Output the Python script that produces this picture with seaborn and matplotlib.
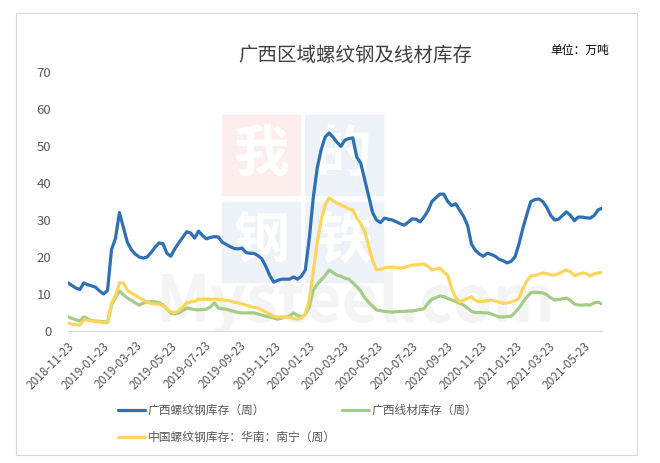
import matplotlib
matplotlib.use("Agg")
import matplotlib.pyplot as plt
import matplotlib.patches as mpatches
import numpy as np
import pandas as pd
import seaborn as sns

# weekly data, starting 2018-11-23
start_date = "2018-11-23"

guangxi_rebar = [
    13, 12.3, 11.6, 11.2, 13, 12.5, 12.2, 11.8, 10.8, 10,
    11, 22, 25, 32, 28, 24, 22, 20.8, 20, 19.7,
    20, 21.2, 22.6, 23.8, 23.6, 21, 20.2, 22.2, 23.8, 25.3,
    26.8, 26.5, 25.1, 27, 25.8, 24.9, 25.3, 25.5, 25.4, 24,
    23.4, 22.8, 22.3, 22.2, 22.4, 21.2, 21, 21, 20.4, 19.5,
    17.5, 15, 13.2, 13.7, 14, 14, 14, 14.6, 14, 14.8,
    16.5, 25, 36, 44, 49, 52.4, 53.5, 52.4, 51, 49.9,
    51.6, 52, 52.2, 47, 45.4, 41, 36.5, 32, 30, 29.3,
    30.5, 30.2, 30, 29.5, 29, 28.6, 29.4, 30.3, 30.2, 29.5,
    30.8, 32.5, 35, 36, 37, 37, 35, 33.9, 34.4, 32.7,
    31, 28.6, 23.5, 21.8, 20.8, 20.2, 21, 20.7, 20.2, 19.4,
    19, 18.4, 18.8, 20, 23.5, 27.8, 31.5, 35, 35.5, 35.7,
    35, 33.5, 31.3, 30, 30.2, 31.2, 32.2, 31.3, 29.8, 30.8,
    30.8, 30.6, 30.5, 31.2, 32.7, 33.2,
]

guangxi_wire = [
    3.8, 3.4, 3.0, 2.7, 3.8, 3.3, 2.8, 2.7, 2.6, 2.5,
    2.4, 7, 9, 10.8, 9.8, 8.9, 8.3, 7.6, 7, 7.5,
    7.9, 7.9, 7.9, 7.7, 7, 6, 4.8, 4.6, 4.9, 5.5,
    6.2, 6, 5.8, 5.7, 5.8, 5.9, 6.5, 7.6, 6.2, 6,
    5.9, 5.6, 5.3, 5, 4.9, 4.9, 4.9, 4.9, 4.6, 4.3,
    4, 3.8, 3.5, 3.2, 3.5, 3.8, 4, 4.9, 4.2, 3.8,
    4.5, 6.5, 11, 12.6, 13.8, 15, 16.5, 15.8, 15.1, 14.8,
    14.3, 14, 13, 12, 10.8, 9, 7.8, 6.7, 5.7, 5.5,
    5.3, 5.2, 5.1, 5.2, 5.3, 5.3, 5.4, 5.4, 5.6, 5.8,
    6, 7.5, 8.6, 9, 9.5, 9.3, 8.8, 8.4, 8, 7.5,
    7, 6.2, 5.3, 5, 5, 4.9, 4.9, 4.6, 4.2, 3.8,
    3.8, 3.9, 4, 5, 6.2, 7.8, 9.2, 10.3, 10.5, 10.4,
    10.3, 9.8, 9, 8.4, 8.5, 8.7, 8.9, 8.3, 7.3, 7,
    7, 7.1, 7, 7.6, 7.8, 7.3,
]

nanning_rebar = [
    2.2, 1.9, 1.7, 1.6, 3, 2.9, 2.7, 2.5, 2.4, 2.3,
    2.2, 7.5, 9.5, 13, 13, 11, 10.3, 9.7, 9, 8.4,
    7.8, 7.4, 7.3, 7.3, 6.8, 6, 5.2, 4.9, 5.5, 6.5,
    7.6, 7.9, 8, 8.6, 8.6, 8.6, 8.6, 8.6, 8.6, 8.4,
    8.3, 8.1, 7.8, 7.6, 7.3, 7, 6.7, 6.4, 6.2, 5.7,
    5.1, 4.5, 4, 3.8, 3.8, 3.8, 3.7, 3.4, 3.2, 3.5,
    4.5, 8.5, 16, 24, 30, 34, 36, 35.2, 34.6, 34,
    33.6, 33, 32.7, 30.5, 29, 27, 23, 19, 16.5, 16.7,
    17, 17.2, 17.3, 17.1, 17, 17.2, 17.5, 17.8, 17.9, 18,
    18.1, 17.5, 16.5, 16.8, 17, 16, 15, 11.5, 9, 7.9,
    8.3, 8.8, 9.2, 8.3, 7.9, 8, 8.2, 8.4, 8.1, 7.8,
    7.5, 7.6, 7.8, 8.2, 8.8, 11.5, 13.5, 14.9, 15, 15.3,
    15.7, 15.5, 15.2, 15.1, 15.5, 16, 16.5, 16, 15, 15.3,
    15.7, 15.5, 14.9, 15.4, 15.7, 15.8,
]

series_names = ["广西螺纹钢库存（周）", "广西线材库存（周）", "中国螺纹钢库存：华南：南宁（周）"]
series_colors = ["#2e70b5", "#a3cd85", "#fdd55e"]

dates = pd.date_range(start_date, periods=len(guangxi_rebar), freq="7D")
df = pd.DataFrame({
    "date": dates,
    series_names[0]: guangxi_rebar,
    series_names[1]: guangxi_wire,
    series_names[2]: nanning_rebar,
})
long_df = df.melt(id_vars="date", var_name="series", value_name="value")

sns.set_theme(style="white")
plt.rcParams["font.family"] = ["Noto Sans CJK SC", "DejaVu Sans"]

fig = plt.figure(figsize=(6.6, 4.63), dpi=100)
fig.patches.append(mpatches.Rectangle((16 / 660, 1 - 455 / 463), 621 / 660, 442 / 463,
                                      transform=fig.transFigure, fill=False,
                                      edgecolor="#d9d9d9", linewidth=0.8))

ax = fig.add_axes([68 / 660, 132 / 463, 534 / 660, 259 / 463])

# faint watermark, kept behind the lines
wm_boxes = [(222, 115, "#fdeded", "我"), (305, 115, "#edf1f8", "的"),
            (222, 202, "#edf1f8", "钢"), (305, 202, "#edf1f8", "铁")]
for bx, by, bc, ch in wm_boxes:
    ax.add_patch(mpatches.Rectangle((bx / 660, 1 - (by + 80) / 463), 78 / 660, 80 / 463,
                                    transform=fig.transFigure, color=bc, zorder=0,
                                    clip_on=False))
    ax.text((bx + 39) / 660, 1 - (by + 40) / 463, ch, transform=fig.transFigure,
            ha="center", va="center", fontsize=40, color="white", fontweight="bold",
            zorder=0.5)
ax.text(355 / 660, 1 - 303 / 463, "Mysteel.com", transform=fig.transFigure,
        ha="center", va="center", fontsize=46, color="#f4f4f4", fontweight="bold",
        zorder=0.6, clip_on=True)

sns.lineplot(data=long_df, x="date", y="value", hue="series", palette=series_colors,
             linewidth=2.3, ax=ax, legend=False, zorder=3)

ax.set_xlim(dates[0], dates[-1])
ax.set_ylim(0, 70)
ax.set_yticks(range(0, 71, 10))
ax.set_xlabel("")
ax.set_ylabel("")

tick_dates = pd.date_range(start_date, periods=16, freq=pd.DateOffset(months=2))
ax.set_xticks(tick_dates)
ax.set_xticklabels([d.strftime("%Y-%m-%d") for d in tick_dates], rotation=45,
                   ha="right", rotation_mode="anchor", fontsize=8.5, color="#595959")
ax.tick_params(axis="y", labelsize=9.5, labelcolor="#595959", length=0, pad=12)
ax.tick_params(axis="x", length=4, color="#d9d9d9", width=0.8, pad=2)

for side in ["left", "right", "top"]:
    ax.spines[side].set_visible(False)
ax.spines["bottom"].set_color("#d9d9d9")
ax.spines["bottom"].set_linewidth(0.8)

fig.text(355 / 660, 1 - 55 / 463, "广西区域螺纹钢及线材库存", ha="center", va="center",
         fontsize=14, color="#404040")
fig.text(580 / 660, 1 - 50 / 463, "单位：万吨", ha="center", va="center",
         fontsize=8.5, color="#000000")

# legend
legend_items = [(118, 410, 0), (342, 410, 1), (118, 437, 2)]
for lx, ly, idx in legend_items:
    yy = 1 - ly / 463
    fig.lines.append(plt.Line2D([lx / 660, (lx + 27) / 660], [yy, yy], transform=fig.transFigure,
                                color=series_colors[idx], linewidth=2.3))
    fig.text((lx + 30) / 660, yy, series_names[idx], ha="left", va="center",
             fontsize=8.5, color="#595959")

fig.savefig("out.png", dpi=100)
